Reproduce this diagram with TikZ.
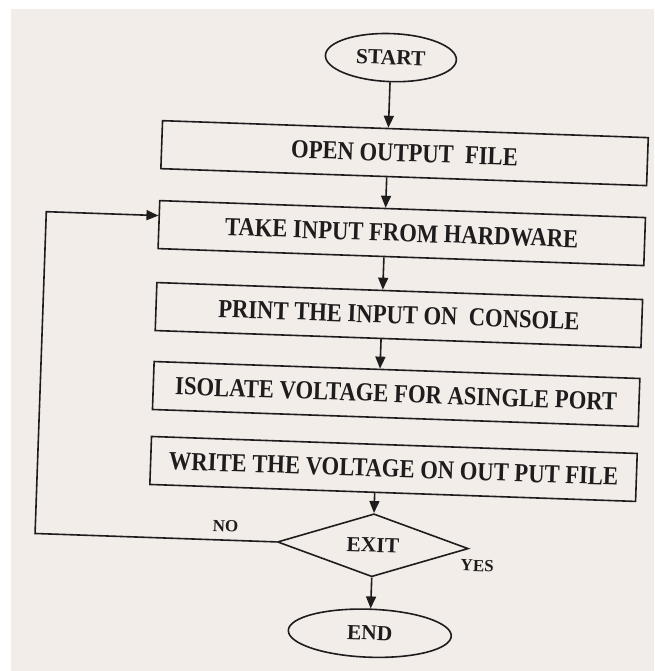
\documentclass[tikz,border=0pt]{standalone}
\usepackage{fontspec}
\setmainfont{Liberation Serif}
\newfontfamily\narrowserif[FakeStretch=0.87]{Liberation Serif}
\usetikzlibrary{shapes.geometric,arrows.meta}
\definecolor{paper}{RGB}{243,237,234}
\definecolor{ink}{RGB}{30,28,28}

\begin{document}
\begin{tikzpicture}[x=1pt,y=-1pt,
  every node/.style = {text=ink, font=\bfseries\fontsize{21.5}{21.5}\selectfont},
  terminal/.style = {shape=ellipse, draw=ink, line width=1.6pt, inner sep=0pt},
  procbox/.style = {shape=rectangle, draw=ink, line width=1.6pt,
    minimum width=486pt, minimum height=48pt, inner sep=0pt,
    font=\narrowserif\bfseries\fontsize{26}{26}\selectfont},
  decision/.style = {shape=diamond, draw=ink, line width=1.6pt, aspect=3,
    inner sep=0pt, minimum width=191pt, minimum height=63pt},
  flow/.style = {draw=ink, line width=1.6pt, -{Triangle[length=12pt,width=10pt]}},
  edgelabel/.style = {font=\bfseries\fontsize{17}{17}\selectfont}]
  \useasboundingbox (0,0) rectangle (654,671);
  \fill[white] (0,0) rectangle (654,671);
  \fill[paper] (11,9) rectangle (654,671);
  % the sheet lies a little askew
  \begin{scope}[rotate around={-2:(340,340)}, transform shape]
  \node[terminal, minimum width=131pt, minimum height=48pt] (start) at (381,56) {START};
  \node[procbox] (openfile) at (398,151) {OPEN OUTPUT\ \ FILE};
  \node[procbox] (takeinput) at (398,231) {TAKE INPUT FROM HARDWARE};
  \node[procbox] (printinput) at (398,313) {PRINT THE INPUT ON\ \ CONSOLE};
  \node[procbox] (isolate) at (398,392) {ISOLATE VOLTAGE FOR ASINGLE PORT};
  \node[procbox] (writevolt) at (398,467) {WRITE THE VOLTAGE ON OUT PUT FILE};
  \node[decision] (exit) at (380,544) {EXIT};
  \node[terminal, minimum width=163pt, minimum height=48pt] (end) at (380,632) {END};
  \node[edgelabel] (nolabel) at (232,530) {NO};
  \node[edgelabel] (yeslabel) at (485,561) {YES};
  \coordinate (lowcorner) at (42,544);
  \coordinate (highcorner) at (42,222);

  \draw[flow] (start.south) -- (start.south |- openfile.north);
  \draw[flow] (openfile.south -| start) -- (takeinput.north -| start);
  \draw[flow] (takeinput.south -| start) -- (printinput.north -| start);
  \draw[flow] (printinput.south -| start) -- (isolate.north -| start);
  \draw[flow] (writevolt.south -| exit) -- (exit.north);
  \draw[flow] (exit.south) -- (end.north);
  % NO goes back to the input step
  \draw[flow] (exit.west) -- (lowcorner) -- (highcorner)
    -- ([yshift=9pt]takeinput.west);
  \end{scope}
\end{tikzpicture}
\end{document}
